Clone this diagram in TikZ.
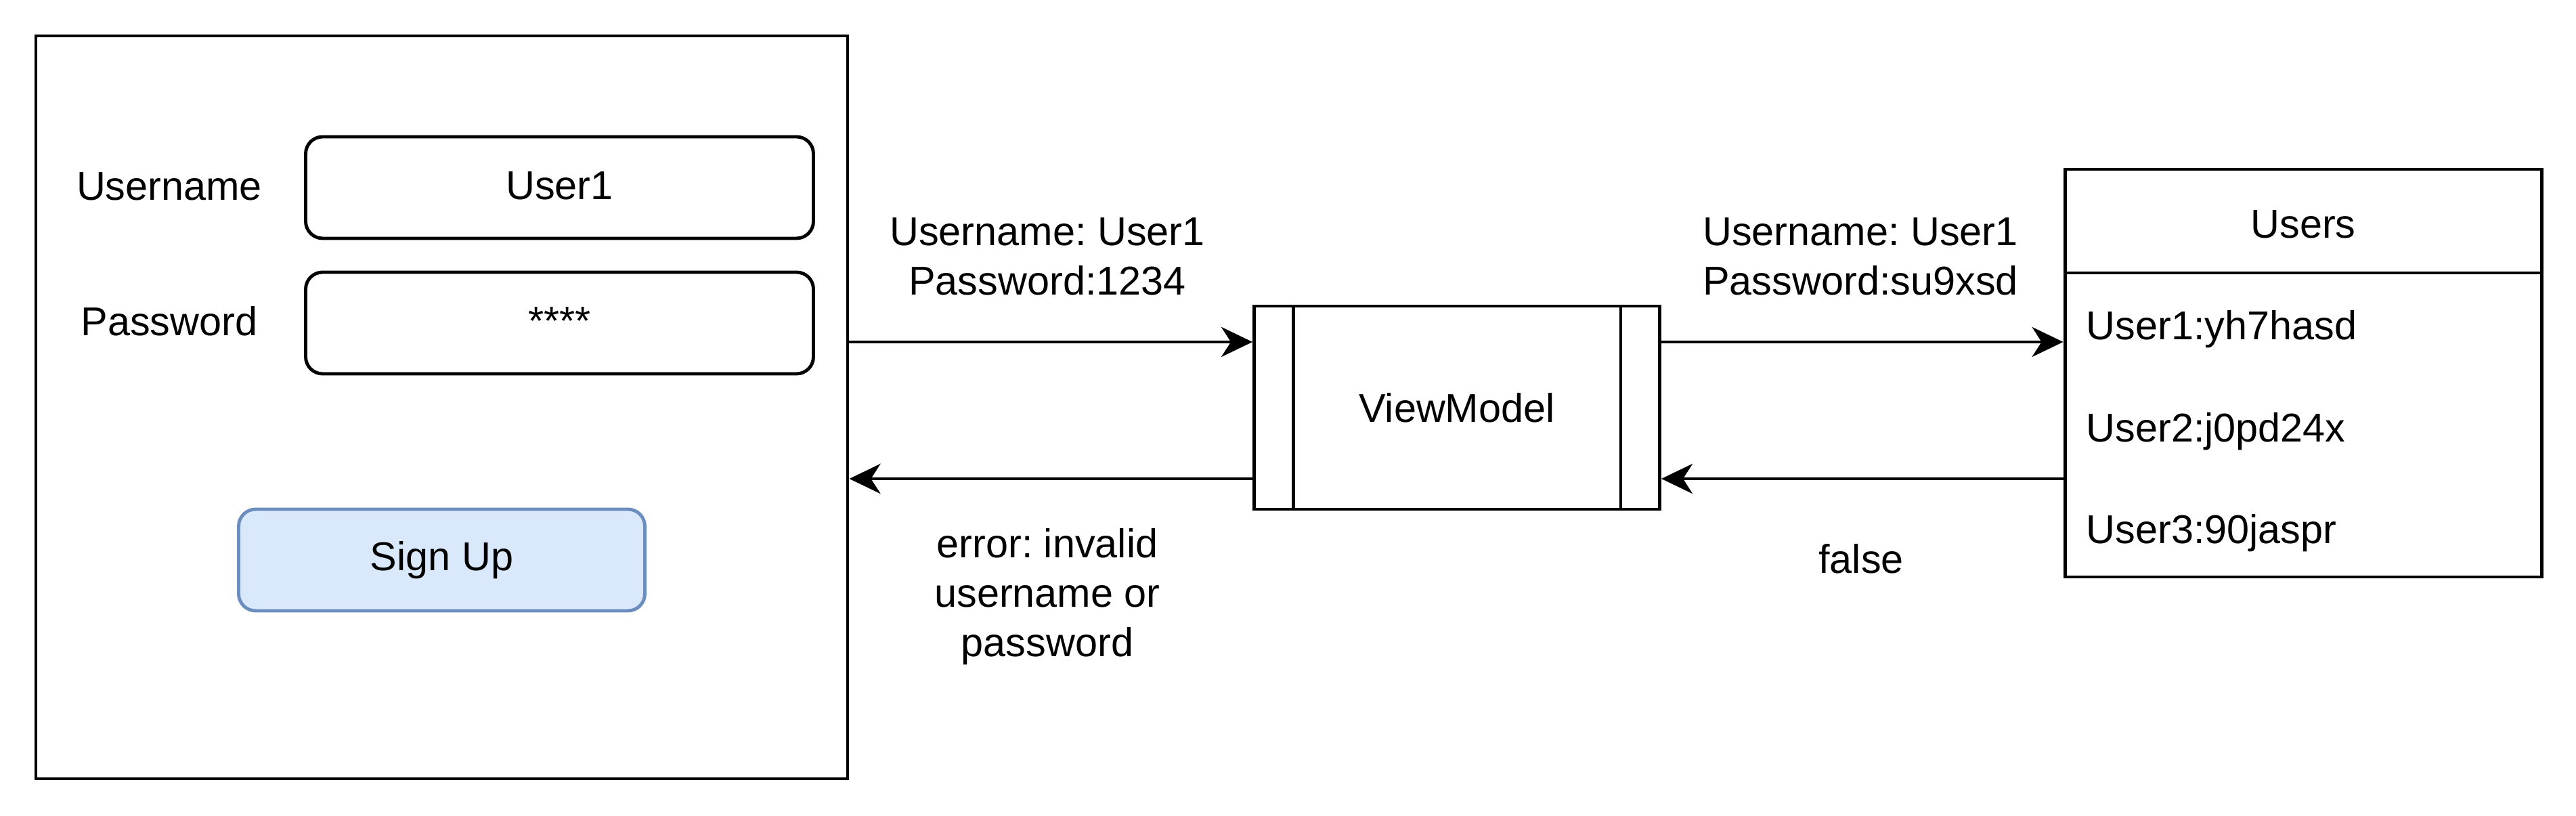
\documentclass[tikz,border=0pt]{standalone}
\usepackage{fontspec}
\setmainfont{Liberation Sans}
\usepackage{tikz}
\usetikzlibrary{arrows.meta}
\definecolor{btnfill}{HTML}{DAE8FC}
\definecolor{btndraw}{HTML}{6C8EBF}
\frenchspacing

\begin{document}
\begin{tikzpicture}[
  font=\fontsize{16.9pt}{20.7pt}\selectfont,
  box/.style={draw, line width=1.4pt, rectangle, inner sep=0pt},
  field/.style={box, rounded corners=0.25cm, minimum width=7.5cm, minimum height=1.5cm, text height=12.2pt, text depth=2pt},
  flow/.style={->, >={Stealth[length=4.6mm,width=4.4mm,inset=1.4mm]}, line width=1.4pt},
  rowtext/.style={anchor=west, inner sep=0pt}
]
\useasboundingbox (0,0) rectangle (38.05,12.05);
% login screen
\node[box, minimum width=11.99cm, minimum height=10.97cm] (login) at (6.525,6.035) {};
\node (userlabel) at (2.50,9.30) {Username};
\node[field] (userfield) at (8.265,9.28) {User1};
\node (passlabel) at (2.50,7.31) {Password};
\node[field] (passfield) at (8.265,7.28) {****};
\node[box, rounded corners=0.25cm, draw=btndraw, fill=btnfill, minimum width=6cm, minimum height=1.5cm] (signup) at (6.525,3.78) {Sign Up};
% view model
\node[box, minimum width=5.99cm, minimum height=3.0cm] (vm) at (21.52,6.03) {ViewModel};
\draw[line width=1.4pt] ([xshift=0.6cm]vm.north west) -- ([xshift=0.6cm]vm.south west);
\draw[line width=1.4pt] ([xshift=-0.6cm]vm.north east) -- ([xshift=-0.6cm]vm.south east);
% users table
\node[box, minimum width=7.04cm, minimum height=6.02cm] (users) at (34.02,6.54) {};
\coordinate (sep) at (30.50,8.02);
\draw[line width=1.4pt] (users.west |- sep) -- (users.east |- sep);
\node (usershead) at (34.02,8.74) {Users};
\node[rowtext] (row1) at (30.81,7.185) {User1:yh7hasd};
\node[rowtext] (row2) at (30.81,5.68) {User2:j0pd24x};
\node[rowtext] (row3) at (30.81,4.18) {User3:90jaspr};
% connectors
\coordinate (vmin) at ([yshift=0.97cm]vm.west);
\coordinate (vmout) at ([yshift=-1.05cm]vm.west);
\draw[flow] (login.east |- vmin) -- (vmin);
\draw[flow] (vmout) -- (login.east |- vmout);
\draw[flow] (vm.east |- vmin) -- (users.west |- vmin);
\draw[flow] (users.west |- vmout) -- (vm.east |- vmout);
% labels
\node[align=center] (reqlabel) at (15.47,8.26) {Username: User1\\Password:1234};
\node[align=center] (querylabel) at (27.48,8.26) {Username: User1\\Password:su9xsd};
\node[align=center] (errlabel) at (15.47,3.24) {error: invalid\\username or\\password};
\node (falselabel) at (27.49,3.80) {false};
\end{tikzpicture}
\end{document}
